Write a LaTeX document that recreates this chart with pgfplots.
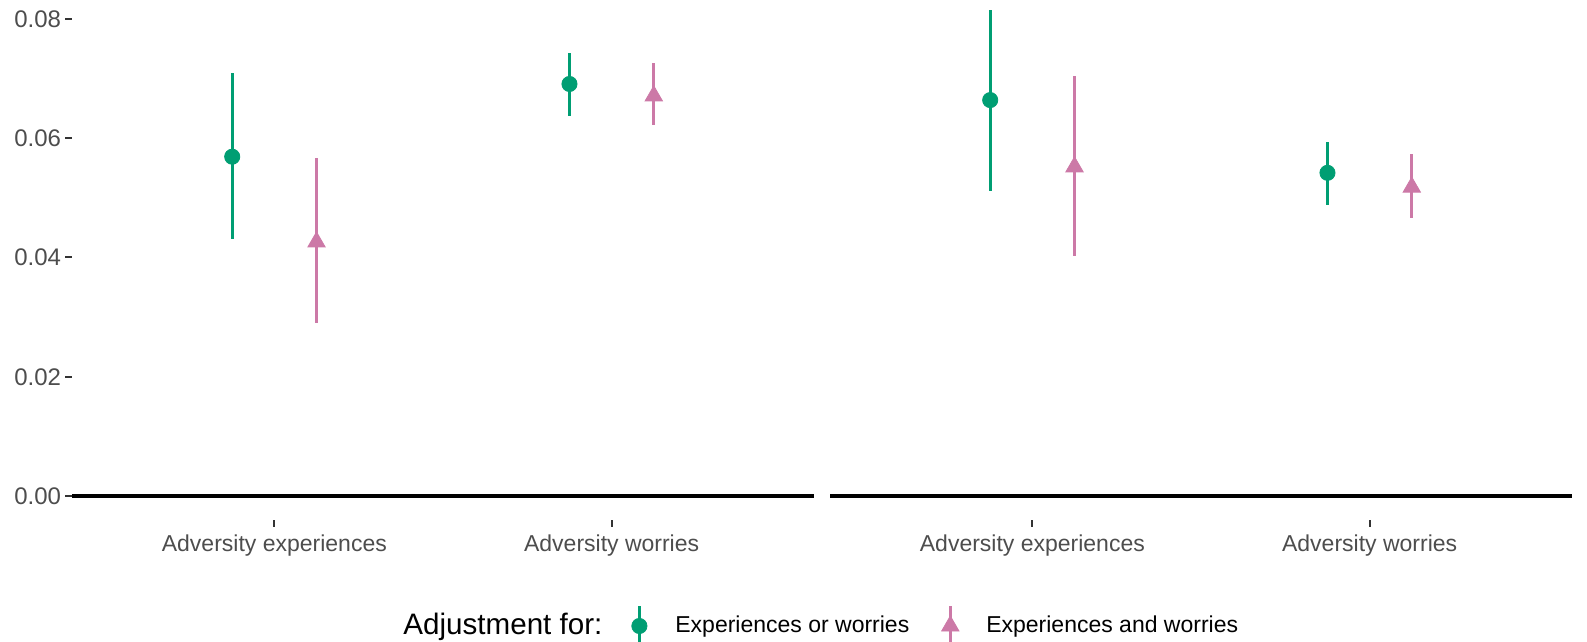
\documentclass[border=0pt]{standalone}
\usepackage{fontspec}
\setmainfont{Liberation Sans}
\usepackage{pgfplots}
\usepackage{pgfplotstable}
\pgfplotsset{compat=1.18}

\definecolor{okgreen}{HTML}{009E73}
\definecolor{okpink}{HTML}{CC79A7}
\definecolor{ticktext}{HTML}{4D4D4D}
\definecolor{tickline}{HTML}{333333}

% estimate with lower / upper limit, dodged around categories 1 and 2
\pgfplotstableread{
x     est    lo     hi
0.875 0.0569 0.0431 0.0709
1.875 0.0691 0.0637 0.0743
}\leftgreen
\pgfplotstableread{
x     est    lo     hi
1.125 0.0426 0.0290 0.0567
2.125 0.0671 0.0622 0.0726
}\leftpink
\pgfplotstableread{
x     est    lo     hi
0.875 0.0664 0.0512 0.0815
1.875 0.0542 0.0488 0.0594
}\rightgreen
\pgfplotstableread{
x     est    lo     hi
1.125 0.0552 0.0402 0.0704
2.125 0.0518 0.0466 0.0574
}\rightpink

\pgfplotsset{
  panel/.style={
    scale only axis, width=371pt, height=260pt,
    xmin=0.4, xmax=2.6, ymin=-0.004025, ymax=0.083186,
    axis lines=left, axis line style={draw=none},
    tick align=outside, major tick length=3.3pt,
    tick style={tickline, line width=1pt},
    xtick={1,2}, xticklabels={Adversity experiences, Adversity worries},
    xticklabel style={font=\fontsize{11.5}{13}\selectfont, text=ticktext,
      anchor=base, inner sep=0pt, yshift=-12.5pt},
    clip=false,
  },
  ci/.style={only marks, color=#1, mark options={draw=#1, fill=#1},
    error bars/y dir=both, error bars/y explicit,
    error bars/error mark=none,
    error bars/error bar style={line width=1.4pt, #1}},
  key/.style={legend image code/.code={
      \draw[##1, line width=1.4pt] (0pt,-10pt) -- (0pt,10pt);
      \path[##1] plot coordinates {(0pt,0pt)};
      \path[draw=none] (-5pt,0pt) -- (18pt,0pt);}},
}

\begin{document}
\begin{tikzpicture}
\path[use as bounding box] (0,0) rectangle (793.5pt,321pt);

\begin{axis}[panel, at={(36pt,61pt)}, anchor=south west,
    ytick={0,0.02,0.04,0.06,0.08},
    yticklabels={0.00,0.02,0.04,0.06,0.08},
    yticklabel style={font=\fontsize{12}{14}\selectfont, text=ticktext,
      anchor=east, inner sep=0pt, xshift=-2pt},
    legend columns=2,
    legend style={draw=none, fill=none, inner sep=0pt,
      at={(axis description cs:0.75067,-0.20385)}, anchor=west,
      nodes={inner sep=0pt, font=\fontsize{11.5}{13}\selectfont, text=black},
      /tikz/every even column/.append style={column sep=15.5pt}},
  ]
  \addplot[black, line width=2pt, forget plot] coordinates {(0.4,0) (2.6,0)};
  \addplot[ci=okgreen, mark=*, mark size=3.8pt, key]
    table[x=x, y=est, y error plus expr=\thisrow{hi}-\thisrow{est},
          y error minus expr=\thisrow{est}-\thisrow{lo}] {\leftgreen};
  \addlegendentry{Experiences or worries}
  \addplot[ci=okpink, mark=triangle*, mark size=5pt, key]
    table[x=x, y=est, y error plus expr=\thisrow{hi}-\thisrow{est},
          y error minus expr=\thisrow{est}-\thisrow{lo}] {\leftpink};
  \addlegendentry{Experiences and worries}
\end{axis}

\begin{axis}[panel, at={(415pt,61pt)}, anchor=south west, ytick=\empty]
  \addplot[black, line width=2pt] coordinates {(0.4,0) (2.6,0)};
  \addplot[ci=okgreen, mark=*, mark size=3.8pt]
    table[x=x, y=est, y error plus expr=\thisrow{hi}-\thisrow{est},
          y error minus expr=\thisrow{est}-\thisrow{lo}] {\rightgreen};
  \addplot[ci=okpink, mark=triangle*, mark size=5pt]
    table[x=x, y=est, y error plus expr=\thisrow{hi}-\thisrow{est},
          y error minus expr=\thisrow{est}-\thisrow{lo}] {\rightpink};
\end{axis}

\node[anchor=base west, inner sep=0pt, font=\fontsize{14.8}{17}\selectfont]
  at (201.5pt,3.5pt) {Adjustment for:};
\end{tikzpicture}
\end{document}
